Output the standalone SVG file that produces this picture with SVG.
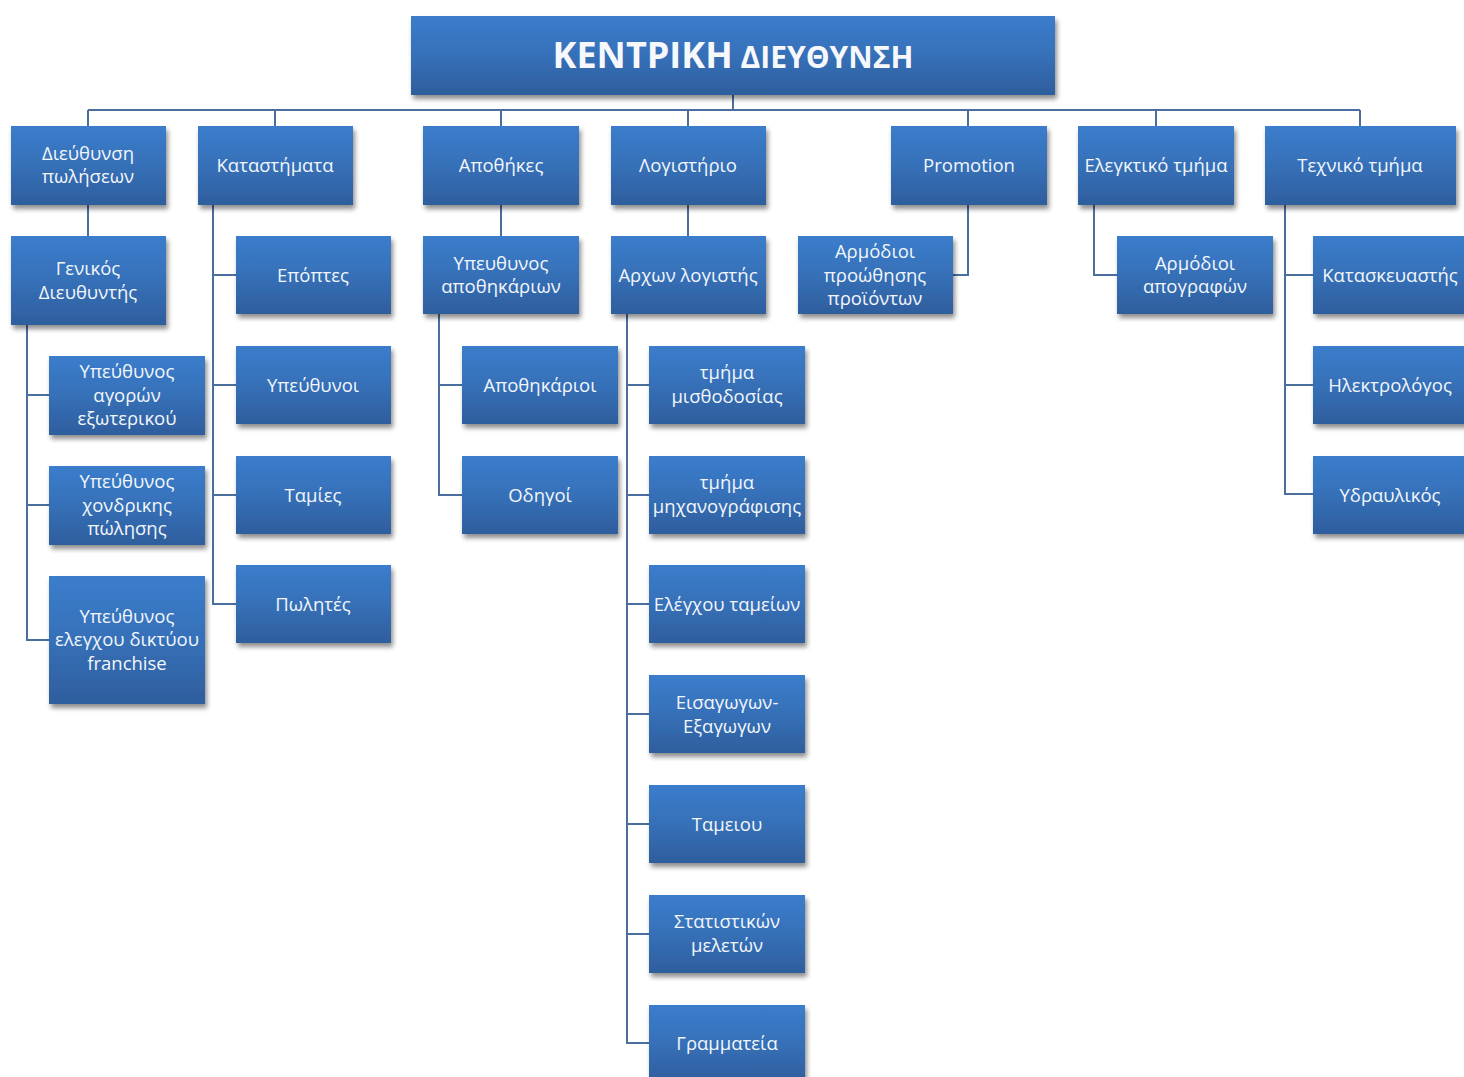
<svg xmlns="http://www.w3.org/2000/svg" width="1464" height="1077" viewBox="0 0 1464 1077">
<defs>
<linearGradient id="g" x1="0" y1="0" x2="0" y2="1">
<stop offset="0" stop-color="#3b7dcc"/>
<stop offset="0.5" stop-color="#3670b8"/>
<stop offset="1" stop-color="#2e5e9d"/>
</linearGradient>
<filter id="sh" x="-10%" y="-10%" width="125%" height="135%">
<feGaussianBlur in="SourceAlpha" stdDeviation="2.5"/>
<feOffset dx="2" dy="4" result="b"/>
<feComponentTransfer><feFuncA type="linear" slope="0.45"/></feComponentTransfer>
<feMerge><feMergeNode/><feMergeNode in="SourceGraphic"/></feMerge>
</filter>
<style>
.b{fill:url(#g);filter:url(#sh)}
.t{font-family:"Open Sans","Noto Sans","DejaVu Sans",sans-serif;font-size:18.5px;fill:#f2f6fb;text-anchor:middle}
.c{fill:none;stroke:#4a6f9f;stroke-width:2}
.h{font-family:"Open Sans","Noto Sans",sans-serif;font-weight:bold;fill:#f6f8fc;text-anchor:middle}
</style>
</defs>
<rect width="1464" height="1077" fill="#ffffff"/>
<g id="connectors" class="c">
<path d="M733 95V110M88 110H1360M88 110V126M275 110V126M501 110V126M688 110V126M968 110V126M1156 110V126M1360 110V126"/>
<path d="M88 205V236"/>
<path d="M27 325V640H49M27 395H49M27 505H49"/>
<path d="M213 205V604H236M213 275H236M213 385H236M213 495H236"/>
<path d="M501 205V236"/>
<path d="M439 314V495H462M439 385H462"/>
<path d="M688 205V236"/>
<path d="M627 314V1043H649M627 385H649M627 495H649M627 604H649M627 714H649M627 824H649M627 934H649"/>
<path d="M968 205V275H953"/>
<path d="M1094 205V275H1117"/>
<path d="M1285 205V494H1313M1285 275H1313M1285 385H1313"/>
</g>
<g id="top"><rect class="b" x="411" y="16" width="644" height="79"/>
<text class="h" x="733" y="68"><tspan font-size="36">ΚΕΝΤΡΙΚΗ</tspan><tspan font-size="30"> ΔΙΕΥΘΥΝΣΗ</tspan></text></g>
<g id="n1"><rect class="b" x="11" y="126" width="155" height="79"/><text class="t" x="88" y="160">Διεύθυνση</text><text class="t" x="88" y="183">πωλήσεων</text></g>
<g id="n2"><rect class="b" x="198" y="126" width="155" height="79"/><text class="t" x="275" y="172">Καταστήματα</text></g>
<g id="n3"><rect class="b" x="423" y="126" width="156" height="79"/><text class="t" x="501" y="172">Αποθήκες</text></g>
<g id="n4"><rect class="b" x="611" y="126" width="155" height="79"/><text class="t" x="688" y="172">Λογιστήριο</text></g>
<g id="n5"><rect class="b" x="891" y="126" width="156" height="79"/><text class="t" x="969" y="172">Promotion</text></g>
<g id="n6"><rect class="b" x="1078" y="126" width="156" height="79"/><text class="t" x="1156" y="172">Ελεγκτικό τμήμα</text></g>
<g id="n7"><rect class="b" x="1265" y="126" width="191" height="79"/><text class="t" x="1360" y="172">Τεχνικό τμήμα</text></g>
<g id="n8"><rect class="b" x="11" y="236" width="155" height="89"/><text class="t" x="88" y="275">Γενικός</text><text class="t" x="88" y="299">Διευθυντής</text></g>
<g id="n9"><rect class="b" x="236" y="236" width="155" height="78"/><text class="t" x="313" y="282">Επόπτες</text></g>
<g id="n10"><rect class="b" x="423" y="236" width="156" height="78"/><text class="t" x="501" y="270">Υπευθυνος</text><text class="t" x="501" y="293">αποθηκάριων</text></g>
<g id="n11"><rect class="b" x="611" y="236" width="155" height="78"/><text class="t" x="688" y="282">Αρχων λογιστής</text></g>
<g id="n12"><rect class="b" x="798" y="236" width="155" height="78"/><text class="t" x="875" y="258">Αρμόδιοι</text><text class="t" x="875" y="282">προώθησης</text><text class="t" x="875" y="305">προϊόντων</text></g>
<g id="n13"><rect class="b" x="1117" y="236" width="156" height="78"/><text class="t" x="1195" y="270">Αρμόδιοι</text><text class="t" x="1195" y="293">απογραφών</text></g>
<g id="n14"><rect class="b" x="1313" y="236" width="156" height="78"/><text class="t" x="1390" y="282">Κατασκευαστής</text></g>
<g id="n15"><rect class="b" x="49" y="356" width="156" height="79"/><text class="t" x="127" y="378">Υπεύθυνος</text><text class="t" x="127" y="402">αγορών</text><text class="t" x="127" y="425">εξωτερικού</text></g>
<g id="n16"><rect class="b" x="236" y="346" width="155" height="78"/><text class="t" x="313" y="392">Υπεύθυνοι</text></g>
<g id="n17"><rect class="b" x="462" y="346" width="156" height="78"/><text class="t" x="540" y="392">Αποθηκάριοι</text></g>
<g id="n18"><rect class="b" x="649" y="346" width="156" height="78"/><text class="t" x="727" y="379">τμήμα</text><text class="t" x="727" y="403">μισθοδοσίας</text></g>
<g id="n19"><rect class="b" x="1313" y="346" width="156" height="78"/><text class="t" x="1390" y="392">Ηλεκτρολόγος</text></g>
<g id="n20"><rect class="b" x="49" y="466" width="156" height="79"/><text class="t" x="127" y="488">Υπεύθυνος</text><text class="t" x="127" y="512">χονδρικης</text><text class="t" x="127" y="535">πώλησης</text></g>
<g id="n21"><rect class="b" x="236" y="456" width="155" height="78"/><text class="t" x="313" y="502">Ταμίες</text></g>
<g id="n22"><rect class="b" x="462" y="456" width="156" height="78"/><text class="t" x="540" y="502">Οδηγοί</text></g>
<g id="n23"><rect class="b" x="649" y="456" width="156" height="78"/><text class="t" x="727" y="489">τμήμα</text><text class="t" x="727" y="513">μηχανογράφισης</text></g>
<g id="n24"><rect class="b" x="1313" y="456" width="156" height="78"/><text class="t" x="1390" y="502">Υδραυλικός</text></g>
<g id="n25"><rect class="b" x="49" y="576" width="156" height="128"/><text class="t" x="127" y="623">Υπεύθυνος</text><text class="t" x="127" y="646">ελεγχου δικτύου</text><text class="t" x="127" y="670">franchise</text></g>
<g id="n26"><rect class="b" x="236" y="565" width="155" height="78"/><text class="t" x="313" y="611">Πωλητές</text></g>
<g id="n27"><rect class="b" x="649" y="565" width="156" height="78"/><text class="t" x="727" y="611">Ελέγχου ταμείων</text></g>
<g id="n28"><rect class="b" x="649" y="675" width="156" height="78"/><text class="t" x="727" y="709">Εισαγωγων-</text><text class="t" x="727" y="733">Εξαγωγων</text></g>
<g id="n29"><rect class="b" x="649" y="785" width="156" height="78"/><text class="t" x="727" y="831">Ταμειου</text></g>
<g id="n30"><rect class="b" x="649" y="895" width="156" height="78"/><text class="t" x="727" y="928">Στατιστικών</text><text class="t" x="727" y="952">μελετών</text></g>
<g id="n31"><rect class="b" x="649" y="1005" width="156" height="78"/><text class="t" x="727" y="1050">Γραμματεία</text></g>
</svg>
